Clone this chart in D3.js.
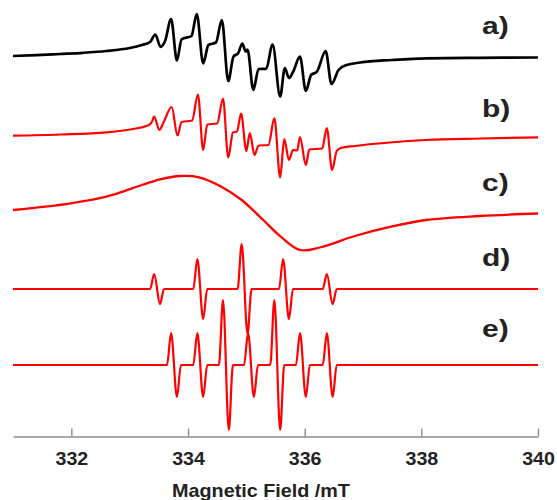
<!DOCTYPE html>
<html>
<head>
<meta charset="utf-8">
<script src="https://cdn.jsdelivr.net/npm/d3@7"></script>
<style>
  html, body { margin: 0; padding: 0; background: #fff; }
  svg text { font-family: "Liberation Sans", Arial, sans-serif; font-weight: bold; fill: #222; }
</style>
</head>
<body>
<div id="chart"></div>
<script>
// field (mT) vs derivative signal
const traceA = [
  [331.0, 1], [331.4, 1.8], [331.81, 3], [332.2, 4.2], [332.6, 6], [333.0, 9], [333.21, 12], [333.35, 15], [333.44, 22.5],
  [333.53, 10], [333.61, 16.5], [333.71, 38], [333.81, -3.5], [333.89, 17.7], [334.06, 21],
  [334.15, 43], [334.26, -6.3], [334.35, 12], [334.48, 14.5], [334.58, 37], [334.69, -24],
  [334.78, 0.5], [334.86, 3.7], [334.93, 13.5], [334.99, 5.5], [335.02, 7.5], [335.12, -33],
  [335.21, -12], [335.34, -11.8], [335.45, 12.5], [335.58, -39.5], [335.66, -11], [335.73, -21],
  [335.8, -15], [335.92, 0.3], [336.02, -34], [336.11, -18], [336.21, -14.7], [336.36, 6],
  [336.46, -27], [336.58, -13], [336.72, -8], [336.95, -5.5], [337.5, -3], [338.08, -1.3], [339.0, -0.8], [340.0, -0.5]
];

const traceB = [
  [331.0, 0.3], [331.81, 1.5], [332.6, 3.7], [333.0, 6.5], [333.33, 11], [333.38, 14], [333.42, 19.5],
  [333.51, 6], [333.58, 13.5], [333.72, 29], [333.82, 0.5], [333.89, 14], [334.07, 15.5],
  [334.17, 41.5], [334.26, -14], [334.33, 11.5], [334.5, 12.5], [334.6, 37.5], [334.69, -21.5],
  [334.77, 3.5], [334.84, 4.5], [334.91, 22.5], [335.0, -15], [335.06, 3], [335.14, -19],
  [335.21, -9.5], [335.38, -9], [335.48, 18], [335.58, -41.5], [335.65, -3], [335.73, -24],
  [335.8, -14], [335.87, -14.5], [335.92, -1], [336.02, -29], [336.08, -13.5], [336.3, -12.5],
  [336.38, 8], [336.47, -34], [336.55, -15], [336.62, -12], [336.86, -10], [337.46, -6.5],
  [338.08, -4], [339.01, -2.5], [340.0, -1.3]
];

const traceC = [
  [331.0, 3], [331.99, 9.7], [332.6, 16.3], [333.21, 28], [333.52, 33.7], [333.88, 37],
  [334.19, 35.7], [334.55, 27], [334.92, 13], [335.29, -7], [335.59, -23.7], [335.92, -37],
  [336.26, -34.5], [336.86, -23], [337.48, -13.7], [338.08, -7], [339.0, -3], [340.0, -0.5]
];

const traceD = [
  [331.0, 0],
  [333.35, 0], [333.42, 15], [333.52, -15], [333.59, 0],
  [334.09, 0], [334.16, 30], [334.26, -30], [334.33, 0],
  [334.85, 0], [334.92, 45], [335.02, -45], [335.09, 0],
  [335.56, 0], [335.63, 30], [335.73, -30], [335.8, 0],
  [336.31, 0], [336.38, 15], [336.48, -15], [336.55, 0],
  [340.0, 0]
];

const traceE = [
  [331.0, 0],
  [333.64, 0], [333.71, 32], [333.81, -32], [333.88, 0],
  [334.09, 0], [334.16, 32], [334.26, -32], [334.33, 0],
  [334.53, 0], [334.6, 65], [334.7, -65], [334.77, 0],
  [334.96, 0], [335.03, 32], [335.13, -32], [335.2, 0],
  [335.41, 0], [335.48, 65], [335.58, -65], [335.65, 0],
  [335.85, 0], [335.92, 32], [336.02, -32], [336.09, 0],
  [336.31, 0], [336.38, 32], [336.48, -32], [336.55, 0],
  [340.0, 0]
];

const traceLabels = ["a)", "b)", "c)", "d)", "e)"];
const fieldTicks = [332, 334, 336, 338, 340];
const axisTitle = "Magnetic Field /mT";

// layout
const width = 557, height = 500;
const traces = [traceA, traceB, traceC, traceD, traceE];
const colors = ["#000", "#f00", "#f00", "#f00", "#f00"];
const strokeW = [2.7, 2.2, 2.3, 2.2, 2.2];
const curves = [d3.curveMonotoneX, d3.curveMonotoneX, d3.curveCatmullRom.alpha(0.5), d3.curveMonotoneX, d3.curveMonotoneX];
const baselines = [57, 136, 213, 289, 365];
const labelY = [34, 117, 191, 266, 337];
const axisY = 436.5;

const svg = d3.select("#chart").append("svg")
  .attr("width", width)
  .attr("height", height);

const x = d3.scaleLinear().domain([331, 340]).range([13, 538]);
const amp = d3.scaleLinear().domain([-100, 100]).range([100, -100]);

traces.forEach((t, i) => {
  const line = d3.line()
    .x(d => x(d[0]))
    .y(d => amp(d[1]))
    .curve(curves[i]);

  svg.append("g")
    .attr("transform", `translate(0,${baselines[i]})`)
    .append("path")
    .datum(t)
    .attr("fill", "none")
    .attr("stroke", colors[i])
    .attr("stroke-width", strokeW[i])
    .attr("stroke-linejoin", "round")
    .attr("d", line);
});

svg.selectAll(".trace-label")
  .data(traceLabels)
  .enter()
  .append("text")
  .attr("class", "trace-label")
  .attr("transform", (d, i) => `translate(482,${labelY[i]}) scale(1.25,1)`)
  .attr("font-size", "24px")
  .text(d => d);

// x axis: ticks point up, labels below
const axis = d3.axisBottom(x)
  .tickValues(fieldTicks)
  .tickSizeInner(-8)
  .tickSizeOuter(0)
  .tickFormat(d3.format("d"));

const ax = svg.append("g")
  .attr("transform", `translate(0,${axisY})`)
  .call(axis);

ax.select(".domain").attr("stroke", "#8c8c8c").attr("stroke-width", 1.6);
ax.selectAll(".tick line").attr("stroke", "#8c8c8c").attr("stroke-width", 1.4);
ax.selectAll(".tick text")
  .attr("y", 29)
  .attr("dy", null)
  .attr("font-size", "18px")
  .attr("font-family", "Liberation Sans, Arial, sans-serif")
  .attr("font-weight", "bold")
  .attr("fill", "#222")
  .attr("transform", "scale(1.09,1)");

svg.append("text")
  .attr("transform", "translate(261,497) scale(1.04,1)")
  .attr("text-anchor", "middle")
  .attr("font-size", "19px")
  .text(axisTitle);
</script>
</body>
</html>
